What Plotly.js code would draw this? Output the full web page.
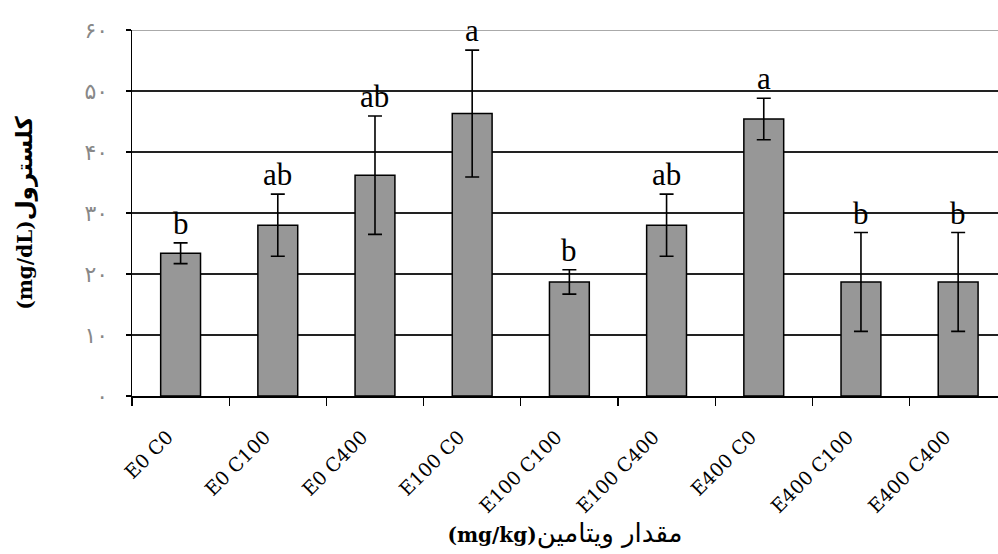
<!DOCTYPE html>
<html>
<head>
<meta charset="utf-8">
<script src="https://cdn.plot.ly/plotly-3.0.1.min.js"></script>
<style>html,body{margin:0;padding:0;background:#fff;}</style>
</head>
<body>
<div id="chart" style="width:998px;height:554px;"></div>
<script>
const categories = ['E0 C0','E0 C100','E0 C400','E100 C0','E100 C100','E100 C400','E400 C0','E400 C100','E400 C400'];
const means  = [23.4, 28.0, 36.2, 46.3, 18.7, 28.0, 45.4, 18.7, 18.7];
const errors = [1.7, 5.1, 9.7, 10.4, 2.0, 5.1, 3.4, 8.1, 8.1];
const letters = ['b','ab','ab','a','b','ab','a','b','b'];
const yTickVals = [0, 10, 20, 30, 40, 50, 60];
const yTickText = ['۰','۱۰','۲۰','۳۰','۴۰','۵۰','۶۰'];
const xTitle = '<b>(mg/kg)</b><span style="font-size:26px">مقدار ویتامین</span>';
const yTitle = '(mg/dL)<span style="font-size:23px">کلسترول</span>';

const trace = {
  type: 'bar',
  x: categories,
  y: means,
  marker: {color: '#979797', line: {color: '#000', width: 1.5}},
  error_y: {type: 'data', array: errors, visible: true, color: '#000', thickness: 1.6, width: 7},
  hoverinfo: 'x+y'
};

const annotations = categories.map((c, i) => ({
  x: c, y: means[i] + errors[i], xref: 'x', yref: 'y',
  text: letters[i], showarrow: false, yanchor: 'bottom', yshift: 0,
  font: {family: 'Liberation Serif, Times New Roman, serif', size: 31, color: '#000'}
}));

const layout = {
  width: 998, height: 554,
  margin: {l: 132, r: 0, t: 30, b: 158, autoexpand: false},
  paper_bgcolor: '#fff', plot_bgcolor: '#fff',
  showlegend: false,
  bargap: 0.59,
  xaxis: {
    type: 'category', range: [-0.5, 8.41],
    showline: true, linecolor: '#000', linewidth: 1.5,
    ticks: 'outside', tickson: 'boundaries', ticklen: 8, tickcolor: '#000', tickwidth: 1.3,
    tickangle: -45, ticklabelstandoff: 21, ticklabelshift: -13,
    tickfont: {family: 'DejaVu Serif, serif', size: 19, color: '#000'},
    showgrid: false, automargin: false,
    title: {text: xTitle, standoff: 12, font: {family: 'DejaVu Serif, DejaVu Sans, serif', size: 20, color: '#000'}}
  },
  yaxis: {
    range: [0, 60], tickvals: yTickVals, ticktext: yTickText,
    showline: true, linecolor: '#000', linewidth: 1.5,
    ticks: 'outside', ticklen: 5, tickcolor: '#000', tickwidth: 1.3,
    ticklabelstandoff: 13,
    tickfont: {family: 'DejaVu Sans, sans-serif', size: 22, color: '#888'},
    showgrid: true, gridcolor: '#222', gridwidth: 1.2, zeroline: false,
    automargin: false,
    title: {text: yTitle, standoff: 46, font: {family: 'DejaVu Serif, DejaVu Sans, serif', size: 20, color: '#000', weight: 'bold'}}
  },
  shapes: [{type: 'line', xref: 'paper', yref: 'y', x0: 0, x1: 1, y0: 60, y1: 60, line: {color: '#aaa', width: 2}, layer: 'above'}],
  annotations: annotations
};

Plotly.newPlot('chart', [trace], layout, {displayModeBar: false, staticPlot: true});
</script>
</body>
</html>
